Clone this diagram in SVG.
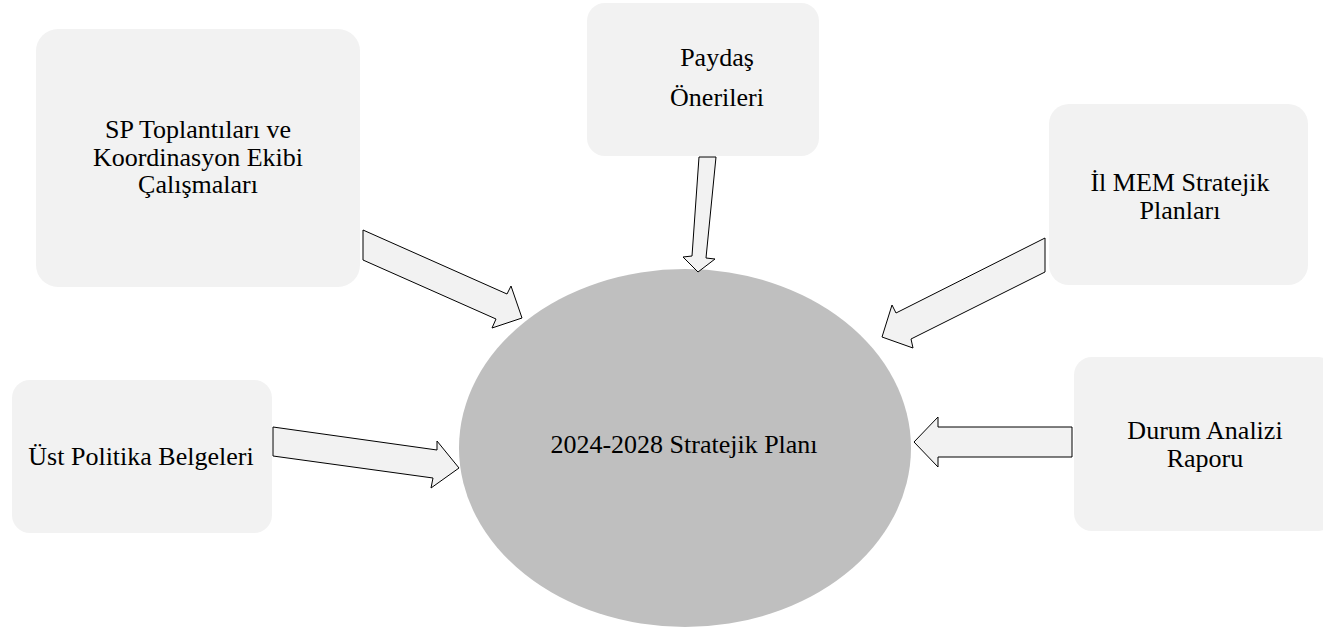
<svg xmlns="http://www.w3.org/2000/svg" width="1323" height="629" viewBox="0 0 1323 629">
<style>
.box{fill:#f2f2f2;stroke:none}
.arr{fill:#f2f2f2;stroke:#000;stroke-width:1;stroke-linejoin:miter}
text{font-family:"Liberation Serif","Times New Roman",serif;font-size:26px;fill:#000;text-anchor:middle}
</style>
<rect width="1323" height="629" fill="#fff"/>
<g id="sp">
<rect class="box" x="36" y="29" width="324" height="258" rx="22"/>
<text x="198" y="138">SP Toplantıları ve</text>
<text x="198" y="166">Koordinasyon Ekibi</text>
<text x="198" y="193">Çalışmaları</text>
</g>
<g id="paydas">
<rect class="box" x="587" y="3" width="232" height="153" rx="18"/>
<text x="717" y="66">Paydaş</text>
<text x="717" y="106">Önerileri</text>
</g>
<g id="ilmem">
<rect class="box" x="1049" y="104" width="259" height="181" rx="20"/>
<text x="1180" y="191">İl MEM Stratejik</text>
<text x="1180" y="219">Planları</text>
</g>
<g id="ust">
<rect class="box" x="12" y="380" width="260" height="153" rx="18"/>
<text x="141" y="465">Üst Politika Belgeleri</text>
</g>
<g id="durum">
<rect class="box" x="1074" y="357" width="262" height="174" rx="18"/>
<text x="1205" y="439">Durum Analizi</text>
<text x="1205" y="467">Raporu</text>
</g>
<g id="plan">
<ellipse cx="685" cy="448" rx="226" ry="179" fill="#bfbfbf"/>
<text x="684" y="453">2024-2028 Stratejik Planı</text>
</g>
<g id="connectors">
<polygon class="arr" points="363,230 507,294 511,286 522,318 492,328 496,319 363,260"/>
<polygon class="arr" points="699,157 716,157 706,258 715,259 698,272 683,257 692,256"/>
<polygon class="arr" points="1045,238 896,313 892,305 882,337 913,348 911,339 1045,272"/>
<polygon class="arr" points="273,427 437,450 437,441 459,468 431,488 433,478 273,456"/>
<polygon class="arr" points="1072,427 938,427 938,417 914,442 938,467 938,457 1072,457"/>
</g>
</svg>
